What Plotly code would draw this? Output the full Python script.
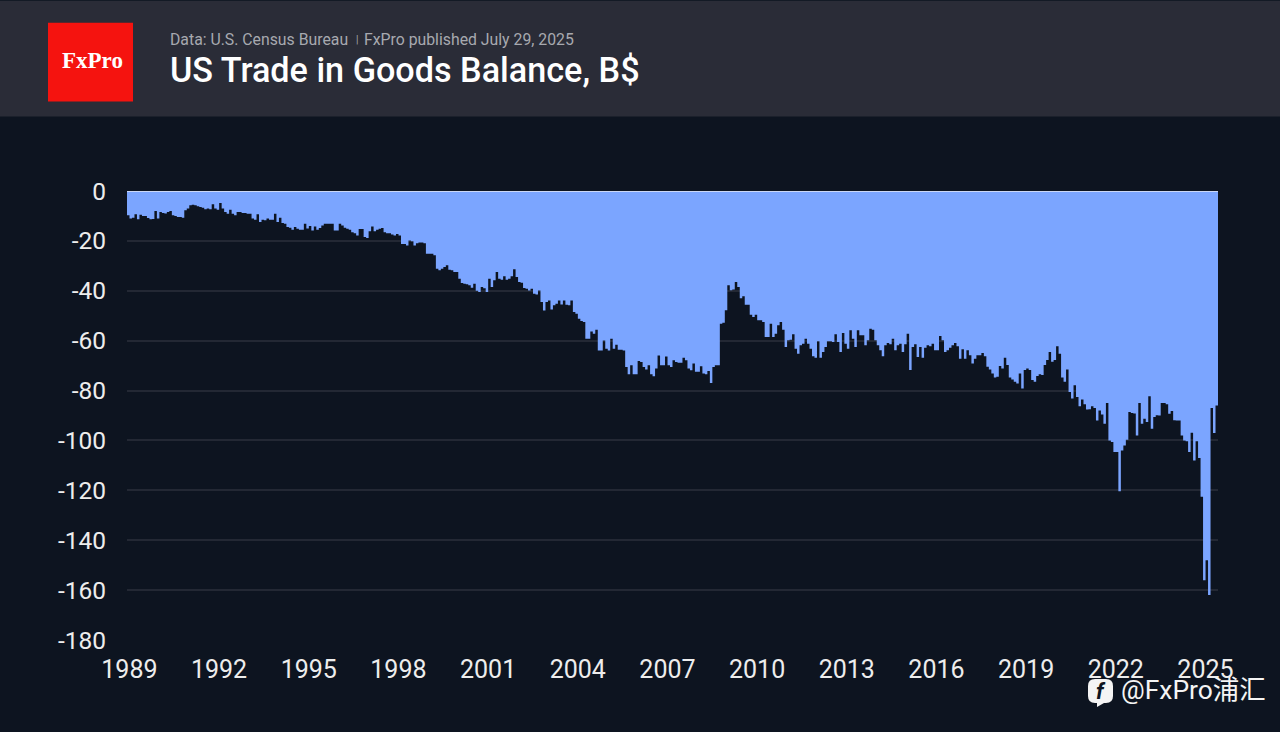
import plotly.graph_objects as go

W, H = 1280, 732

# Monthly balance in B$, Jan of the first year onward
y1989 = [-9.7,-11,-10.7,-9.3,-11.3,-9.5,-10,-10,-10.8,-11.3,-11.2,-8]
y1990 = [-11,-8.4,-8.8,-9,-8.4,-8,-9.7,-10,-10.4,-10.4,-10.7,-7.7]
y1991 = [-7,-5.7,-5.5,-5.7,-6.1,-6.4,-6.7,-7.3,-7,-7.3,-5.3,-7]
y1992 = [-7.5,-4.8,-7,-8.4,-9.1,-7.5,-9.1,-9.7,-8.4,-8.4,-8.8,-8.8]
y1993 = [-9.1,-9.1,-11,-11.5,-9.3,-12.4,-11.5,-11.7,-11,-11.5,-11.5,-9.1]
y1994 = [-12.4,-10.7,-12.8,-13.1,-14.4,-14.7,-15.5,-14.4,-15.1,-15.5,-15.5,-13.1]
y1995 = [-15,-14,-15.8,-14.2,-15.5,-14.8,-13.8,-13.1,-13.1,-13.1,-13.1,-15.8]
y1996 = [-15.8,-13.1,-13.8,-14.7,-15.1,-15.5,-16.5,-16.9,-17.8,-15.2,-15.2,-18.4]
y1997 = [-18.8,-16.1,-14.2,-16.1,-15.5,-15.1,-14.8,-16.5,-16.9,-16.9,-17.4,-17.8]
y1998 = [-17.2,-17.8,-21.2,-21.2,-21.8,-19.8,-20.1,-21.8,-20.9,-20.6,-20.6,-20.9]
y1999 = [-25.2,-25.2,-25.2,-25.8,-31.2,-31.8,-31.2,-30.5,-29.8,-31.6,-31.8,-32.5]
y2000 = [-32.5,-35.2,-36.9,-37.2,-37.4,-37.8,-38.8,-37.2,-40,-40.5,-38.5,-39]
y2001 = [-40.5,-35.2,-38.5,-35.8,-32.5,-35.2,-35.6,-34.2,-35.6,-35.2,-34.2,-31.4]
y2002 = [-34.5,-36.5,-36.8,-38.9,-39.2,-39.9,-39.2,-41.2,-41.5,-39.9,-44.5,-47.9]
y2003 = [-44.5,-43.9,-47.5,-45.8,-45.2,-43.9,-45.5,-43.9,-45.6,-45.8,-43.9,-48.5]
y2004 = [-49.2,-51.2,-52.1,-52.5,-59.2,-59.2,-56.3,-57.2,-55.6,-63.9,-63.9,-59.9]
y2005 = [-63.2,-63.9,-59.2,-63.2,-61.6,-63.6,-63.6,-63.9,-70.6,-73.5,-69.9,-73.5]
y2006 = [-73.5,-68.2,-68.6,-70.6,-71.6,-69.9,-73.5,-74.3,-71.2,-65.9,-69.9,-69.9]
y2007 = [-66.3,-69.9,-70.6,-67.9,-68.6,-68.9,-68.9,-66.8,-67.9,-71.2,-71.9,-69.2]
y2008 = [-72.5,-72.5,-70.3,-73.2,-73.5,-72.2,-77,-70.6,-69.9,-69.9,-53.2,-52.8]
y2009 = [-47.8,-37.8,-39.8,-39.5,-36.5,-38.5,-43,-42.2,-45.6,-45.6,-49.6,-50.5]
y2010 = [-49.6,-51.8,-51.8,-52.5,-58.5,-58.5,-53.2,-58.5,-57.2,-53.8,-52.5,-55.6]
y2011 = [-62.5,-59.8,-59.6,-57.4,-63.2,-65.2,-61.8,-61.2,-59.2,-61.2,-63.2,-66.2]
y2012 = [-66.8,-60.2,-66.8,-64.5,-62.5,-60.2,-60.2,-60.5,-57.4,-60.5,-64.5,-56.9]
y2013 = [-61.2,-63.2,-55.8,-59.2,-62.5,-55.8,-57.8,-57.8,-61.8,-59.8,-55.2,-55.6]
y2014 = [-59.8,-61.8,-63.8,-66.2,-61.8,-60.9,-61.4,-59.2,-63.8,-61.8,-61.2,-64.5]
y2015 = [-61.4,-57.2,-71.8,-62.5,-61.4,-66.5,-62.5,-66.8,-62.8,-61.8,-62.2,-61.2]
y2016 = [-63.8,-63.8,-58.1,-59.8,-64.5,-63.8,-62.8,-61.8,-60.9,-62.2,-67.2,-63.4]
y2017 = [-67.2,-63.8,-65.8,-69.2,-67.2,-65.8,-65.8,-64.9,-66.2,-70.5,-71.6,-73.2]
y2018 = [-74.8,-74.5,-70.2,-71.2,-66.8,-69.8,-74.8,-75.6,-76.5,-77.2,-73.2,-79.2]
y2019 = [-71.8,-71.2,-71.8,-75.8,-76.5,-74.2,-73.5,-73.8,-69.8,-67.8,-64.5,-68.5]
y2020 = [-67.8,-62.2,-65.2,-74.8,-76.5,-71.6,-80.6,-83.2,-77.9,-82.6,-86.3,-83.6]
y2021 = [-85.5,-87.6,-87.5,-86.3,-87,-92,-88,-89.6,-93.3,-85,-100,-100.6]
y2022 = [-104.6,-104.6,-120.4,-104,-102,-99.7,-88.6,-89,-89.2,-98,-85,-93.3]
y2023 = [-91.3,-92.6,-82.3,-95.3,-90.6,-89.9,-90,-85,-85,-85.5,-89.3,-88.2]
y2024 = [-91.9,-92,-92,-98,-100,-100.3,-104.6,-96.9,-108,-100.3,-107,-122.6]
y2025 = [-156,-148,-162,-87,-97,-86]

years = [y1989,y1990,y1991,y1992,y1993,y1994,y1995,y1996,y1997,y1998,y1999,y2000,
         y2001,y2002,y2003,y2004,y2005,y2006,y2007,y2008,y2009,y2010,y2011,y2012,
         y2013,y2014,y2015,y2016,y2017,y2018,y2019,y2020,y2021,y2022,y2023,y2024,y2025]

x_tick_labels = ["1989","1992","1995","1998","2001","2004","2007","2010","2013","2016","2019","2022","2025"]
y_tick_values = [0,-20,-40,-60,-80,-100,-120,-140,-160,-180]

values, xs = [], []
for i, year in enumerate(years):
    for m, v in enumerate(year):
        xs.append(1989 + i + m / 12)
        values.append(v)
# closing edge of the last month, so its step has width
xs.append(xs[-1] + 1 / 12)
values.append(values[-1])

BG = "#0D1420"
HEADER = "#2A2C37"
FILL = "#7BA5FF"
GRID = "#232834"
TICK = "#EDEDED"

# plot-area box in page pixels
L, R, T, B = 127, 1218, 190.5, 640

def px(x): return (x - L) / (R - L)
def py(y): return (B - y) / (B - T)

fig = go.Figure(go.Scatter(
    x=xs, y=values, mode="lines", line=dict(shape="hv", width=0, color=FILL),
    fill="tozeroy", fillcolor=FILL, hoverinfo="skip", showlegend=False))

def rect(x0, y0, x1, y1, color, layer="above"):
    return dict(type="rect", xref="paper", yref="paper", x0=px(x0), x1=px(x1), y0=py(y1), y1=py(y0),
                fillcolor=color, line=dict(width=0), layer=layer)

def note(x, y, text, size, color, family="Roboto", anchor="left", weight=None):
    f = dict(family=family, size=size, color=color)
    if weight:
        f["weight"] = weight
    return dict(xref="paper", yref="paper", x=px(x), y=py(y), text=text, showarrow=False,
                xanchor=anchor, yanchor="middle", font=f, borderpad=0, borderwidth=0)

# Facebook-style badge of the watermark
bx0, by0, bx1, by1, r = 1088, 679, 1113, 703, 7
def P(x, y): return f"{px(x)},{py(y)}"
badge = (f"M{P(bx0+r,by0)} L{P(bx1-r,by0)} Q{P(bx1,by0)} {P(bx1,by0+r)} L{P(bx1,by1-r)} "
         f"Q{P(bx1,by1)} {P(bx1-r,by1)} L{P(1104,by1)} L{P(1097,707)} L{P(1097,by1)} L{P(bx0+r,by1)} "
         f"Q{P(bx0,by1)} {P(bx0,by1-r)} L{P(bx0,by0+r)} Q{P(bx0,by0)} {P(bx0+r,by0)} Z")

fig.update_layout(
    width=W, height=H, autosize=False,
    margin=dict(l=L, r=W - R, t=T, b=H - B),
    paper_bgcolor=BG, plot_bgcolor=BG,
    font=dict(family="Roboto", color=TICK),
    xaxis=dict(range=[1989, xs[-1]], tickmode="array",
               tickvals=[int(t) + 0.08 for t in x_tick_labels], ticktext=x_tick_labels,
               showgrid=False, zeroline=False, showline=False, ticks="",
               tickfont=dict(family="Roboto", size=25, color=TICK), ticklabelstandoff=12),
    yaxis=dict(range=[-180, 0], tickmode="array", tickvals=y_tick_values,
               ticktext=[str(v) for v in y_tick_values],
               showgrid=True, gridcolor=GRID, gridwidth=1.5, zeroline=False, showline=False, ticks="",
               tickfont=dict(family="Roboto", size=24.5, color=TICK), ticklabelstandoff=20),
    shapes=[
        rect(0, 0, W, 116, HEADER),
        rect(48, 22, 133, 101, "#F5130F"),
        dict(type="line", xref="paper", yref="y", x0=0, x1=1, y0=0, y1=0,
             line=dict(color="#E4E9F5", width=1.5), layer="above"),
        dict(type="path", xref="paper", yref="paper", path=badge, fillcolor="#F4F4F4",
             line=dict(width=0), layer="above"),
    ],
    annotations=[
        note(92, 60, "<b>FxPro</b>", 23, "#FFFFFF", family="Liberation Serif", anchor="center"),
        note(170, 38.5, "Data: U.S. Census Bureau", 15.8, "#A7A9AF"),
        note(356.5, 39, "|", 10, "#A7A9AF", anchor="center"),
        note(364, 38.5, "FxPro published July 29, 2025", 15.8, "#A7A9AF"),
        note(170, 69, "US Trade in Goods Balance, B$", 34.2, "#FFFFFF", weight=500),
        note(1100.5, 692, "<b><i>f</i></b>", 22, BG, family="Roboto", anchor="center"),
        note(1121, 690, "@FxPro浦汇", 26.4, "#F4F4F4", family="Roboto, Noto Sans CJK SC"),
    ],
)

fig.write_html("out.html", config=dict(displayModeBar=False),
               post_script="document.body.style.margin='0';document.body.style.overflow='hidden';")
